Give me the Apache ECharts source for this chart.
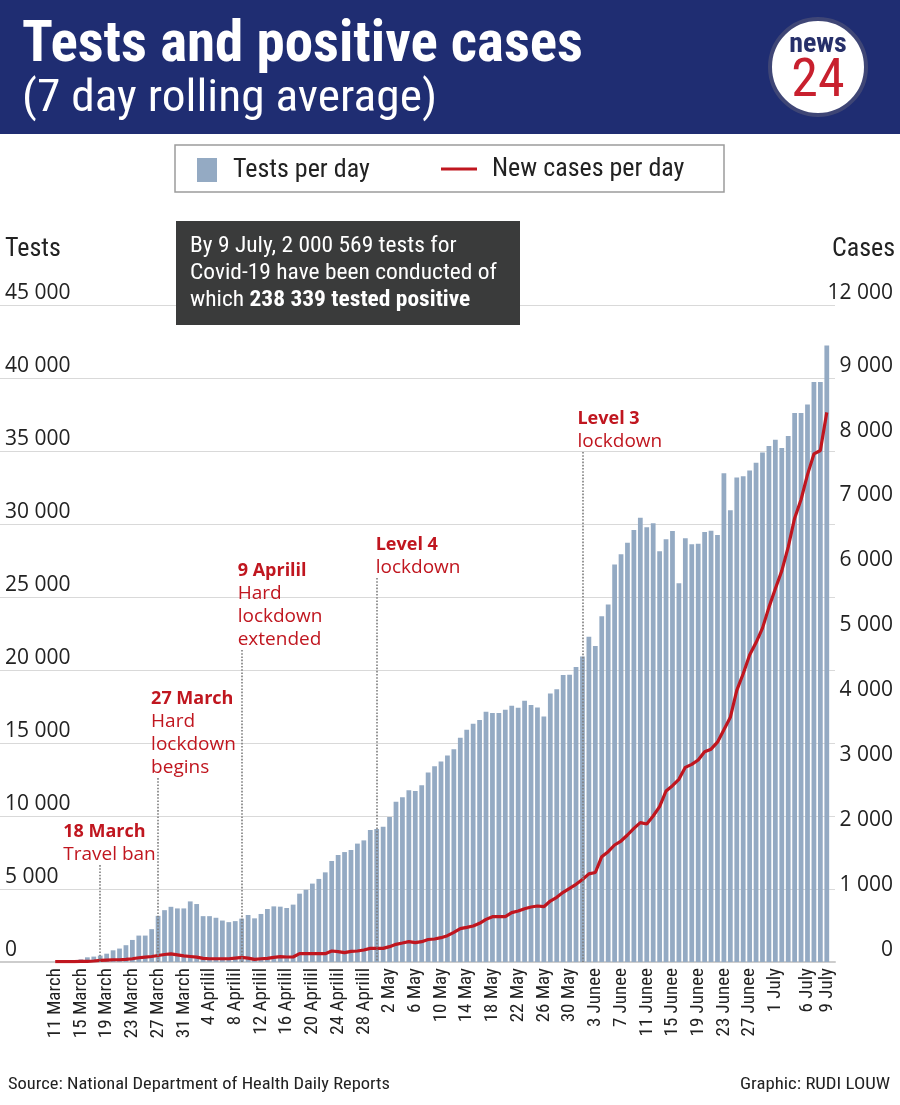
<!DOCTYPE html>
<html><head><meta charset="utf-8">
<script src="https://cdn.jsdelivr.net/npm/echarts@6/dist/echarts.min.js"></script>
<style>html,body{margin:0;padding:0;background:#fff}#c{width:900px;height:1105px}</style>
</head><body><div id="c"></div>
<script>
// ---------- DATA ----------
const monthSpans = [["March", 11, 31], ["Aprilil", 1, 30], ["May", 1, 31], ["Junee", 1, 30], ["July", 1, 9]];
const categories = [];
monthSpans.forEach(([m, a, b]) => { for (let d = a; d <= b; d++) categories.push(d + " " + m); });

const shownDateLabels = ["11 March","15 March","19 March","23 March","27 March","31 March",
  "4 Aprilil","8 Aprilil","12 Aprilil","16 Aprilil","20 Aprilil","24 Aprilil","28 Aprilil",
  "2 May","6 May","10 May","14 May","18 May","22 May","26 May","30 May",
  "3 Junee","7 Junee","11 Junee","15 Junee","19 Junee","23 Junee","27 Junee",
  "1 July","6 July","9 July"];

const testsPerDay = [
  0, 0, 0, 0, 180, 320, 370, 440, 570, 800,
  920, 1150, 1510, 1810, 1810, 2250, 3160, 3550, 3780, 3670,
  3670, 4150, 3970, 3140, 3140, 3030, 2840, 2730, 2800, 2970,
  3220, 2990, 3290, 3630, 3810, 3790, 3700, 3930, 4680, 4950,
  5370, 5690, 6140, 6920, 7330, 7530, 7670, 8110, 8330, 9040,
  9110, 9270, 9930, 10980, 11280, 11760, 11710, 12100, 12980, 13410,
  13730, 14140, 14570, 15360, 15910, 16320, 16570, 17140, 17050, 17050,
  17270, 17550, 17410, 17890, 17610, 17430, 16820, 18390, 18680, 19660,
  19680, 20210, 20930, 22280, 21640, 23680, 24480, 27220, 27920, 28720,
  29590, 30430, 29770, 30050, 28130, 28950, 29520, 25940, 29020, 28610,
  28650, 29450, 29530, 29250, 33470, 30940, 33180, 33270, 33670, 34200,
  34890, 35340, 35770, 35200, 36020, 37610, 37610, 38180, 39720, 39720,
  42220];

const newCasesPerDay = [
  5, 5, 5, 5, 10, 10, 15, 25, 30, 35,
  35, 40, 50, 65, 75, 85, 100, 115, 125, 110,
  95, 85, 75, 55, 50, 50, 50, 50, 60, 70,
  60, 40, 50, 56, 72, 82, 77, 77, 128, 128,
  128, 128, 128, 169, 159, 144, 164, 169, 185, 210,
  210, 210, 236, 272, 292, 313, 297, 313, 346, 354,
  374, 405, 456, 513, 533, 554, 595, 656, 697, 697,
  697, 759, 785, 820, 846, 862, 851, 938, 995, 1072,
  1133, 1195, 1270, 1356, 1377, 1620, 1697, 1800, 1861, 1954,
  2056, 2144, 2123, 2246, 2390, 2631, 2713, 2810, 2995, 3041,
  3108, 3236, 3274, 3382, 3574, 3765, 4180, 4435, 4722, 4914,
  5137, 5456, 5743, 6018, 6382, 6828, 7116, 7498, 7817, 7869,
  8456];

const leftTickStep = 5000;
const leftAxisMax = 45000;
const rightTickValues = [0, 1000, 2000, 3000, 4000, 5000, 6000, 7000, 8000, 9000];
const rightTopTickLabel = "12 000";
const rightAxisMax = 10108;   // value at the top gridline as the cases labels are drawn

const eventDates = ["18 March", "27 March", "9 Aprilil", "30 Aprilil", "1 Junee"];
const eventTitles = ["18 March", "27 March", "9 Aprilil", "Level 4", "Level 3"];
const eventTexts = [["Travel ban"], ["Hard", "lockdown", "begins"], ["Hard", "lockdown", "extended"], ["lockdown"], ["lockdown"]];

// ---------- LAYOUT ----------
const eventLineTop = [6640, 12600, 21370, 26300, 34930];  // in tests-axis units
const eventLabelDx = [-37, -7, -4, -1, -5];

const RED = '#c0161f';
const COND = "'Roboto Condensed','Liberation Sans Narrow','DejaVu Sans Condensed',Roboto,sans-serif";
const GEO = "'Open Sans',Roboto,sans-serif";
const fmt = v => String(Math.round(v)).replace(/\B(?=(\d{3})+(?!\d))/g, ' ');

const mctx = document.createElement('canvas').getContext('2d');
function fitScale(text, font, target) { mctx.font = font; return target / mctx.measureText(text).width; }

const titleFont = "bold 57px " + COND;
const subFont = "45px " + COND;
const boxFont = "22px " + COND;
const footFont = "17px " + COND;

const chart = echarts.init(document.getElementById('c'), null, { renderer: 'canvas' });
const shownSet = new Set(shownDateLabels);

const option = {
  backgroundColor: '#fff',
  animation: false,
  grid: [
    { left: 0, right: 65, top: 305, height: 657 },
    { left: 52, right: 70, top: 305, height: 657 }
  ],
  legend: [
    { left: 197, top: 157, padding: 0, itemWidth: 20, itemHeight: 24, data: [{ name: 'Tests per day', icon: 'rect' }], z: 5,
      textStyle: { fontFamily: COND, fontSize: 26, color: '#222', padding: [0, 0, 0, 11] }, selectedMode: false },
    { left: 441, top: 156, padding: 0, itemWidth: 36, itemHeight: 3,
      data: [{ name: 'New cases per day', icon: 'path://M0,0L36,0L36,3L0,3Z', itemStyle: { color: RED } }], z: 5,
      textStyle: { fontFamily: COND, fontSize: 26, color: '#222', padding: [0, 0, 0, 10] }, selectedMode: false }
  ],
  xAxis: [
    { type: 'value', gridIndex: 0, min: 0, max: 1, axisLabel: { show: false }, axisTick: { show: false },
      splitLine: { show: false }, axisLine: { show: true, lineStyle: { color: '#cdcdcd', width: 2 } } },
    { type: 'category', gridIndex: 1, data: categories, boundaryGap: true,
      axisLine: { show: false }, axisTick: { show: false },
      axisLabel: { interval: (i, v) => shownSet.has(v), rotate: 90, margin: 6,
        fontFamily: COND, fontSize: 19, color: '#222' } }
  ],
  yAxis: [
    { type: 'value', gridIndex: 0, min: 0, max: leftAxisMax, interval: leftTickStep,
      name: 'Tests', nameLocation: 'end', nameGap: 43,
      nameTextStyle: { fontFamily: COND, fontSize: 26, color: '#222', align: 'left', padding: [0, 0, 0, 5] },
      axisLine: { show: false }, axisTick: { show: false },
      splitLine: { show: true, lineStyle: { color: '#d9d9d9', width: 1.2 } },
      axisLabel: { inside: true, margin: 5, align: 'left', verticalAlign: 'bottom', padding: [0, 0, 1, 0],
        fontFamily: GEO, fontSize: 21, color: '#222', formatter: v => fmt(v) } },
    { type: 'value', gridIndex: 1, min: 0, max: leftAxisMax, show: false },
    { type: 'value', gridIndex: 1, position: 'right', min: 0, max: rightAxisMax,
      name: 'Cases', nameLocation: 'end', nameGap: 43,
      nameTextStyle: { fontFamily: COND, fontSize: 26, color: '#222', align: 'left', padding: [0, 0, 0, 2] },
      axisLine: { show: false }, axisTick: { show: false }, splitLine: { show: false },
      axisLabel: { customValues: rightTickValues.concat([rightAxisMax]), margin: 63, align: 'right',
        verticalAlign: 'bottom', padding: [0, 0, 1, 0], fontFamily: GEO, fontSize: 21, color: '#222',
        formatter: v => v === rightAxisMax ? rightTopTickLabel : fmt(v) } }
  ],
  series: [
    { name: 'Tests per day', type: 'bar', xAxisIndex: 1, yAxisIndex: 1, data: testsPerDay,
      barWidth: '74%', itemStyle: { color: '#94aac3' }, z: 2,
      markLine: { silent: true, symbol: 'none', animation: false,
        lineStyle: { type: 'dotted', color: '#7d7d7d', width: 1.6 }, label: { show: false },
        data: eventDates.map((d, k) => [{ xAxis: d, yAxis: eventLineTop[k] }, { xAxis: d, yAxis: 0 }]) },
      markPoint: { silent: true, symbol: 'circle', symbolSize: 0.1, itemStyle: { color: 'rgba(0,0,0,0)' },
        data: eventDates.map((d, k) => ({
          coord: [d, eventLineTop[k]],
          label: { show: true, position: 'top', distance: -1, align: 'left', offset: [eventLabelDx[k], 0],
            formatter: '{b|' + eventTitles[k] + '}\n' + eventTexts[k].map(t => '{r|' + t + '}').join('\n'),
            rich: {
              b: { fontFamily: GEO, fontWeight: 'bold', fontSize: 18, lineHeight: 23, color: RED },
              r: { fontFamily: GEO, fontSize: 19, lineHeight: 23, color: RED }
            } }
        })) } },
    { name: 'New cases per day', type: 'line', xAxisIndex: 1, yAxisIndex: 2, data: newCasesPerDay,
      symbol: 'none', z: 4, lineStyle: { color: RED, width: 3.2 }, itemStyle: { color: RED } }
  ],
  graphic: [
    { type: 'rect', z: -10, shape: { x: 0, y: 0, width: 900, height: 134 }, style: { fill: '#1f2d72' } },
    { type: 'text', z: 10, x: 22, y: 47, scaleX: fitScale('Tests and positive cases', titleFont, 561),
      style: { text: 'Tests and positive cases', font: titleFont, fill: '#fff', verticalAlign: 'middle' } },
    { type: 'text', z: 10, x: 22, y: 100, scaleX: fitScale('(7 day rolling average)', subFont, 415),
      style: { text: '(7 day rolling average)', font: subFont, fill: '#fff', verticalAlign: 'middle' } },
    // logo
    { type: 'circle', z: 10, shape: { cx: 818, cy: 67, r: 48 }, style: { fill: '#fff', stroke: '#3f4676', lineWidth: 4 } },
    { type: 'text', z: 11, x: 818, y: 45, style: { text: 'news', font: "bold 28px " + COND, fill: '#27306a', align: 'center', verticalAlign: 'middle' } },
    { type: 'text', z: 11, x: 818, y: 82, style: { text: '24', font: "54px " + COND, fill: '#c8202e', align: 'center', verticalAlign: 'middle' } },
    // legend frame
    { type: 'rect', z: 0, shape: { x: 175, y: 145, width: 549, height: 47 }, style: { fill: '#fff', stroke: '#9c9c9c', lineWidth: 1.5 } },
    // info box
    { type: 'rect', z: 50, shape: { x: 176, y: 221, width: 344, height: 104 }, style: { fill: '#3a3b3b' } },
    { type: 'text', z: 51, x: 190, y: 233, scaleX: fitScale('Covid-19 have been conducted of', boxFont, 307),
      style: { text: 'By 9 July, 2 000 569 tests for\nCovid-19 have been conducted of\nwhich {b|238 339 tested positive}',
        font: boxFont, fill: '#fff', lineHeight: 27,
        rich: { b: { fontFamily: COND, fontWeight: 'bold', fontSize: 22, fill: '#fff', lineHeight: 27 } } } },
    // footer
    { type: 'text', x: 8, y: 1085, scaleX: fitScale('Source: National Department of Health Daily Reports', footFont, 382),
      style: { text: 'Source: National Department of Health Daily Reports', font: footFont, fill: '#222', verticalAlign: 'middle' } },
    { type: 'text', x: 890, y: 1085, scaleX: fitScale('Graphic: RUDI LOUW', footFont, 150),
      style: { text: 'Graphic: RUDI LOUW', font: footFont, fill: '#222', align: 'right', verticalAlign: 'middle' } }
  ]
};
chart.setOption(option);
</script></body></html>
